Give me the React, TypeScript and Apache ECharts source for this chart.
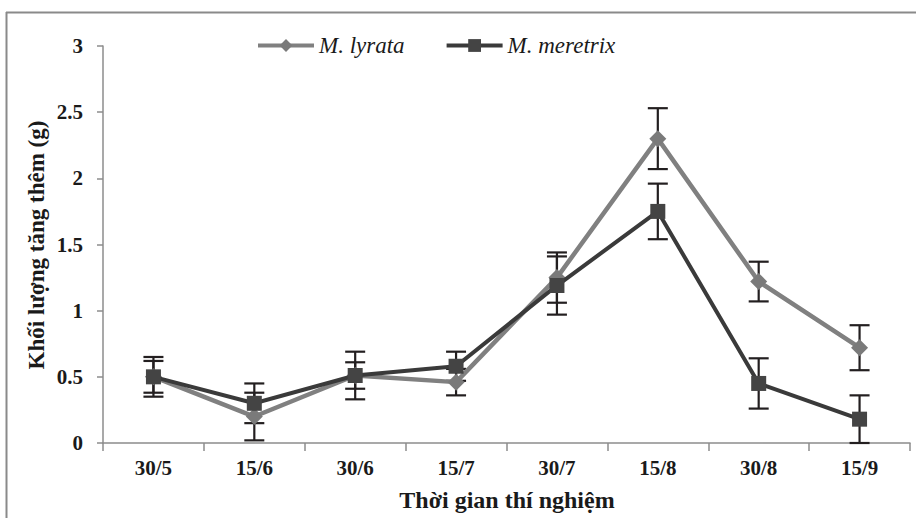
import React, { useEffect, useRef } from "react";
import * as echarts from "echarts";

const categories = ["30/5", "15/6", "30/6", "15/7", "30/7", "15/8", "30/8", "15/9"];
const lyrataMean = [0.5, 0.2, 0.51, 0.46, 1.25, 2.3, 1.22, 0.72];
const lyrataErr = [0.12, 0.18, 0.1, 0.1, 0.19, 0.23, 0.15, 0.17];
const meretrixMean = [0.5, 0.3, 0.51, 0.58, 1.19, 1.75, 0.45, 0.18];
const meretrixErr = [0.15, 0.15, 0.18, 0.11, 0.22, 0.21, 0.19, 0.18];
const yTicks = { min: 0, max: 3, interval: 0.5 };
const xTitle = "Thời gian thí nghiệm";
const yTitle = "Khối lượng tăng thêm (g)";

const FONT = "Liberation Serif";
const ERR_COLOR = "#231f20";

function errorSeries(means: number[], errs: number[], z: number) {
  return {
    type: "custom",
    z,
    silent: true,
    data: means.map((m, i) => [i, m, errs[i]]),
    encode: { x: 0, y: 1 },
    renderItem: (params: any, api: any) => {
      const i = api.value(0);
      const m = api.value(1);
      const e = api.value(2);
      const top = api.coord([i, m + e]);
      const bot = api.coord([i, m - e]);
      const hw = 10;
      const style = { stroke: ERR_COLOR, lineWidth: 2.2 };
      return {
        type: "group",
        children: [
          { type: "line", shape: { x1: top[0], y1: top[1], x2: bot[0], y2: bot[1] }, style },
          { type: "line", shape: { x1: top[0] - hw, y1: top[1], x2: top[0] + hw, y2: top[1] }, style },
          { type: "line", shape: { x1: bot[0] - hw, y1: bot[1], x2: bot[0] + hw, y2: bot[1] }, style },
        ],
      };
    },
  };
}

export default function App() {
  const ref = useRef<HTMLDivElement>(null);
  useEffect(() => {
    if (!ref.current) return;
    const chart = echarts.init(ref.current, null, { renderer: "svg", width: 916, height: 518 });
    chart.setOption({
      animation: false,
      backgroundColor: "#ffffff",
      grid: { left: 103, right: 6, top: 46, bottom: 75, containLabel: false, outerBoundsMode: "none" },
      legend: {
        data: ["M. lyrata", "M. meretrix"],
        left: 251,
        top: 29,
        itemWidth: 56,
        itemHeight: 16,
        itemGap: 40,
        lineStyle: { width: 4 },
        textStyle: { fontFamily: FONT, fontStyle: "italic", fontSize: 23, color: "#1a1a1a" },
      },
      graphic: [
        { type: "line", shape: { x1: 6, y1: 12.5, x2: 916, y2: 12.5 }, style: { stroke: "#8a8a8a", lineWidth: 2 } },
        { type: "line", shape: { x1: 6.5, y1: 12, x2: 6.5, y2: 518 }, style: { stroke: "#8a8a8a", lineWidth: 2 } },
        {
          type: "text",
          x: 507,
          y: 500,
          style: {
            text: xTitle,
            fontFamily: FONT,
            fontWeight: "bold",
            fontSize: 24,
            fill: "#1a1a1a",
            textAlign: "center",
            textVerticalAlign: "middle",
          },
        },
        {
          type: "text",
          x: 36,
          y: 245,
          rotation: Math.PI / 2,
          style: {
            text: yTitle,
            fontFamily: FONT,
            fontWeight: "bold",
            fontSize: 23,
            fill: "#1a1a1a",
            textAlign: "center",
            textVerticalAlign: "middle",
          },
        },
      ],
      xAxis: {
        type: "category",
        data: categories,
        boundaryGap: true,
        axisLine: { lineStyle: { color: "#8c8c8c", width: 1.5 } },
        axisTick: { show: true, length: 8, lineStyle: { color: "#8c8c8c", width: 1.5 } },
        axisLabel: { fontFamily: FONT, fontWeight: "bold", fontSize: 21, color: "#1a1a1a", margin: 14 },
      },
      yAxis: {
        type: "value",
        min: yTicks.min,
        max: yTicks.max,
        interval: yTicks.interval,
        splitLine: { show: false },
        axisLine: { show: true, lineStyle: { color: "#8c8c8c", width: 1.5 } },
        axisTick: { show: true, length: 6, lineStyle: { color: "#8c8c8c", width: 1.5 } },
        axisLabel: { fontFamily: FONT, fontWeight: "bold", fontSize: 21, color: "#1a1a1a", margin: 20 },
      },
      series: [
        errorSeries(lyrataMean, lyrataErr, 1),
        errorSeries(meretrixMean, meretrixErr, 1),
        {
          name: "M. lyrata",
          type: "line",
          z: 3,
          data: lyrataMean,
          symbol: "diamond",
          symbolSize: 17,
          lineStyle: { color: "#808080", width: 4.5 },
          itemStyle: { color: "#7a7a7a" },
        },
        {
          name: "M. meretrix",
          type: "line",
          z: 4,
          data: meretrixMean,
          symbol: "rect",
          symbolSize: 15,
          lineStyle: { color: "#3a3a3a", width: 4 },
          itemStyle: { color: "#444444" },
        },
      ],
    });
    return () => chart.dispose();
  }, []);
  return (
    <div
      ref={ref}
      style={{ position: "fixed", left: 0, top: 0, width: 916, height: 518 }}
    />
  );
}
